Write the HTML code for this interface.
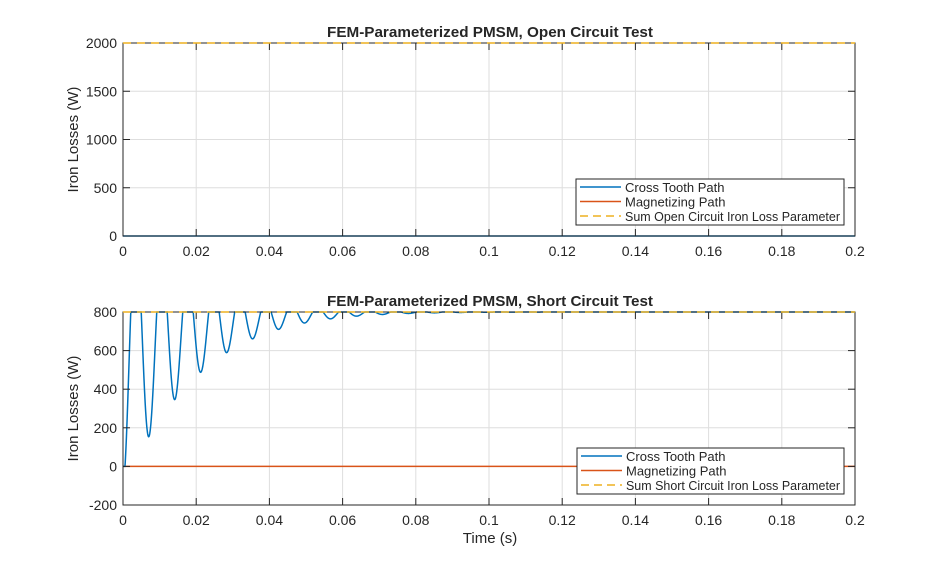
<!DOCTYPE html>
<html><head><meta charset="utf-8"><style>
body{margin:0;background:#fff;}
svg text{font-family:"Liberation Sans",sans-serif;}
</style></head><body>
<svg id="s" width="946" height="569" xmlns="http://www.w3.org/2000/svg">
<rect width="946" height="569" fill="#fff"/>
<g id="g"></g>
</svg>
<script>
const g=document.getElementById('g');
let h='';
const X0=123,X1=855;
function xp(t){return X0+(X1-X0)*t/0.2;}
function axes(top,bot,ymin,ymax,yt){
  const yp=v=>bot-(bot-top)*(v-ymin)/(ymax-ymin);
  h+=`<rect x="${X0}" y="${top}" width="${X1-X0}" height="${bot-top}" fill="#fff"/>`;
  for(let i=0;i<=10;i++){const x=xp(i*0.02);
    h+=`<line x1="${x}" y1="${top}" x2="${x}" y2="${bot}" stroke="#dedede" stroke-width="1"/>`;}
  yt.forEach(v=>{const y=yp(v);h+=`<line x1="${X0}" y1="${y}" x2="${X1}" y2="${y}" stroke="#dedede"/>`;});
  return yp;
}
function frame(top,bot,ymin,ymax,yt,title,xlabel){
  const yp=v=>bot-(bot-top)*(v-ymin)/(ymax-ymin);
  h+=`<rect x="${X0}" y="${top}" width="${X1-X0}" height="${bot-top}" fill="none" stroke="#262626" stroke-width="1"/>`;
  const labs=['0','0.02','0.04','0.06','0.08','0.1','0.12','0.14','0.16','0.18','0.2'];
  for(let i=0;i<=10;i++){const x=xp(i*0.02);
    h+=`<line x1="${x}" y1="${bot}" x2="${x}" y2="${bot-7}" stroke="#262626"/><line x1="${x}" y1="${top}" x2="${x}" y2="${top+7}" stroke="#262626"/>`;
    h+=`<text x="${x}" y="${bot+20}" font-size="14" text-anchor="middle" fill="#262626">${labs[i]}</text>`;}
  yt.forEach(v=>{const y=yp(v);
    h+=`<line x1="${X0}" y1="${y}" x2="${X0+7}" y2="${y}" stroke="#262626"/><line x1="${X1}" y1="${y}" x2="${X1-7}" y2="${y}" stroke="#262626"/>`;
    h+=`<text x="${X0-6}" y="${y+5}" font-size="14" text-anchor="end" fill="#262626">${v}</text>`;});
  h+=`<text x="490" y="${top-6}" font-size="15" font-weight="bold" text-anchor="middle" fill="#262626" textLength="326" lengthAdjust="spacingAndGlyphs">${title}</text>`;
  h+=`<text x="78" y="${(top+bot)/2}" font-size="15" text-anchor="middle" fill="#262626" transform="rotate(-90 78 ${(top+bot)/2})">Iron Losses (W)</text>`;
  if(xlabel)h+=`<text x="490" y="${bot+38}" font-size="15" text-anchor="middle" fill="#262626">Time (s)</text>`;
}
function legend(x,y,w,third){
  h+=`<rect x="${x}" y="${y}" width="${w}" height="46" fill="#fff" stroke="#262626"/>`;
  const it=[['#0072bd','','Cross Tooth Path'],['#d95319','','Magnetizing Path'],['#edb120','8,5',third]];
  it.forEach((a,i)=>{const yy=y+8+i*14.5;
    h+=`<line x1="${x+4}" y1="${yy}" x2="${x+45}" y2="${yy}" stroke="${a[0]}" stroke-width="1.5" ${a[1]?`stroke-dasharray="${a[1]}"`:''}/>`;
    const tl=i==2?`textLength="${w-53}" lengthAdjust="spacingAndGlyphs"`:'';
    h+=`<text x="${x+49}" y="${yy+5}" font-size="13" fill="#262626" ${tl}>${a[2]}</text>`;});
}
// top
axes(43,236,0,2000,[0,500,1000,1500,2000]);
h+=`<line x1="${X0}" y1="236" x2="${X1}" y2="236" stroke="#0072bd" stroke-width="1.5"/>`;
h+=`<line x1="${X0}" y1="236" x2="${X1}" y2="236" stroke="#d95319" stroke-width="0.8" stroke-dasharray="3,6"/>`;
frame(43,236,0,2000,[0,500,1000,1500,2000],'FEM-Parameterized PMSM, Open Circuit Test',false);
h+=`<line x1="${X0}" y1="43" x2="${X1}" y2="43" stroke="#edb120" stroke-width="1.5" stroke-dasharray="8,6"/>`;
legend(576,179,268,'Sum Open Circuit Iron Loss Parameter');
// bottom
let yp2=axes(312,505,-200,800,[-200,0,200,400,600,800]);
let T=0.0071,pts=[];
for(let i=0;i<=3000;i++){const t=0.2*i/3000;
  const d=900*Math.exp(-t/0.022-(t/0.07)*(t/0.07));const c=-0.3;
  let gg=(Math.cos(2*Math.PI*t/T)-c)/(1-c);
  let f=800-d*gg;
  f=Math.max(0,Math.min(800,f));
  pts.push(xp(t).toFixed(2)+','+yp2(f).toFixed(2));}
h+=`<line x1="${X0}" y1="${yp2(0)}" x2="${X1}" y2="${yp2(0)}" stroke="#d95319" stroke-width="1.5"/>`;
h+=`<polyline points="${pts.join(' ')}" fill="none" stroke="#0072bd" stroke-width="1.5"/>`;
frame(312,505,-200,800,[-200,0,200,400,600,800],'FEM-Parameterized PMSM, Short Circuit Test',true);
h+=`<line x1="${X0}" y1="312" x2="${X1}" y2="312" stroke="#edb120" stroke-width="1.5" stroke-dasharray="8,6"/>`;
legend(577,448,267,'Sum Short Circuit Iron Loss Parameter');
g.innerHTML=h;
</script>
</body></html>
